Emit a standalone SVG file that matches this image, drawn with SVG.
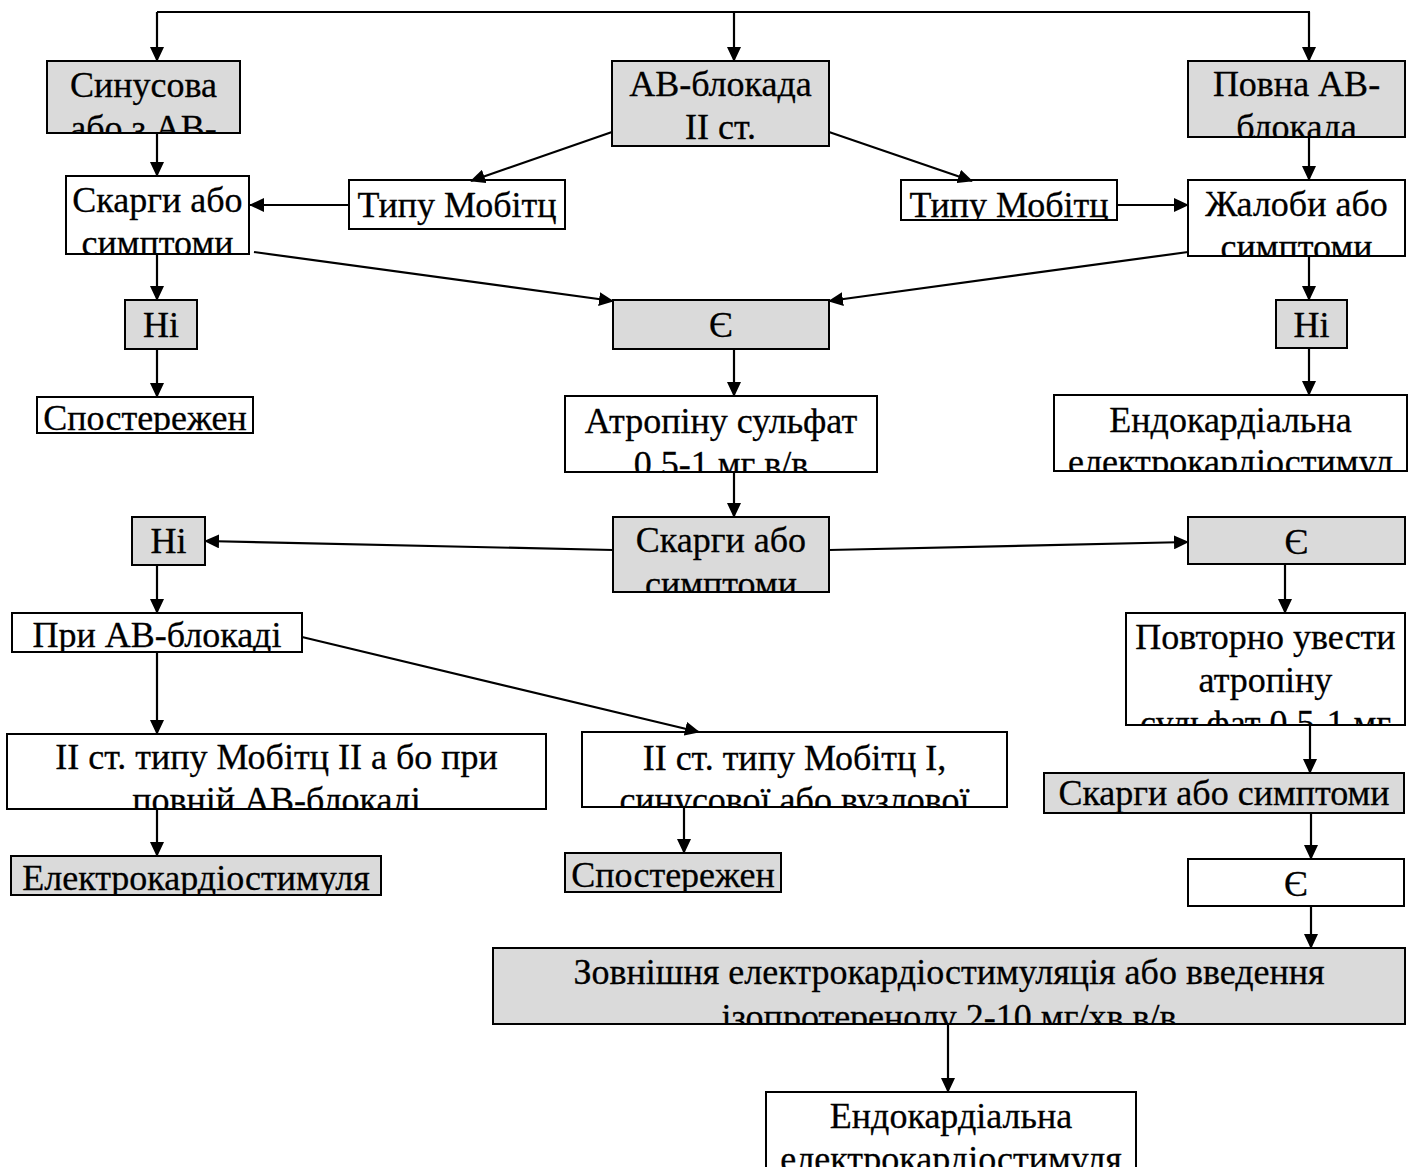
<svg xmlns="http://www.w3.org/2000/svg" width="1408" height="1167" viewBox="0 0 1408 1167">
<style>
.box{stroke:#000;stroke-width:2}
.g{fill:#dadada}
.w{fill:#fff}
text{font-family:"Liberation Serif","Times New Roman","DejaVu Serif",serif;font-size:36px;text-anchor:middle;fill:#000;stroke:#000;stroke-width:0.3}
.c{fill:none;stroke:#000;stroke-width:2.2;marker-end:url(#arr)}
.p{fill:none;stroke:#000;stroke-width:2.2}
</style>
<defs>
<marker id="arr" viewBox="0 0 15 14" refX="14" refY="7" markerWidth="15" markerHeight="14" markerUnits="userSpaceOnUse" orient="auto"><path d="M0,0 L15,7 L0,14 z" fill="#000"/></marker>
<clipPath id="k1"><rect x="47" y="61" width="193" height="72"/></clipPath>
<clipPath id="k2"><rect x="612" y="61" width="217" height="85"/></clipPath>
<clipPath id="k3"><rect x="1188" y="61" width="217" height="76"/></clipPath>
<clipPath id="k4"><rect x="66" y="176" width="183" height="78"/></clipPath>
<clipPath id="k5"><rect x="349" y="180" width="216" height="49"/></clipPath>
<clipPath id="k6"><rect x="901" y="180" width="216" height="40"/></clipPath>
<clipPath id="k7"><rect x="1188" y="180" width="217" height="76"/></clipPath>
<clipPath id="k8"><rect x="125" y="300" width="72" height="49"/></clipPath>
<clipPath id="k9"><rect x="613" y="300" width="216" height="49"/></clipPath>
<clipPath id="k10"><rect x="1276" y="300" width="71" height="48"/></clipPath>
<clipPath id="k11"><rect x="37" y="397" width="216" height="36"/></clipPath>
<clipPath id="k12"><rect x="565" y="396" width="312" height="76"/></clipPath>
<clipPath id="k13"><rect x="1054" y="395" width="353" height="76"/></clipPath>
<clipPath id="k14"><rect x="132" y="517" width="73" height="48"/></clipPath>
<clipPath id="k15"><rect x="613" y="517" width="216" height="75"/></clipPath>
<clipPath id="k16"><rect x="1188" y="517" width="217" height="47"/></clipPath>
<clipPath id="k17"><rect x="12" y="613" width="290" height="39"/></clipPath>
<clipPath id="k18"><rect x="1126" y="613" width="279" height="112"/></clipPath>
<clipPath id="k19"><rect x="7" y="734" width="539" height="75"/></clipPath>
<clipPath id="k20"><rect x="582" y="732" width="425" height="75"/></clipPath>
<clipPath id="k21"><rect x="1044" y="773" width="360" height="40"/></clipPath>
<clipPath id="k22"><rect x="11" y="856" width="370" height="39"/></clipPath>
<clipPath id="k23"><rect x="565" y="853" width="216" height="39"/></clipPath>
<clipPath id="k24"><rect x="1188" y="859" width="216" height="47"/></clipPath>
<clipPath id="k25"><rect x="493" y="948" width="912" height="76"/></clipPath>
<clipPath id="k26"><rect x="766" y="1092" width="370" height="80"/></clipPath>
</defs>
<rect width="1408" height="1167" fill="#fff"/>

<g id="n1"><rect class="box g" x="47" y="61" width="193" height="72"/><g clip-path="url(#k1)"><text x="143.5" y="97">Синусова</text><text x="143.5" y="140">або з АВ-</text></g></g>
<g id="n2"><rect class="box g" x="612" y="61" width="217" height="85"/><g clip-path="url(#k2)"><text x="720.5" y="96">АВ-блокада</text><text x="720.5" y="139">II ст.</text></g></g>
<g id="n3"><rect class="box g" x="1188" y="61" width="217" height="76"/><g clip-path="url(#k3)"><text x="1296.5" y="96">Повна АВ-</text><text x="1296.5" y="139">блокада</text></g></g>
<g id="n4"><rect class="box w" x="66" y="176" width="183" height="78"/><g clip-path="url(#k4)"><text x="157.5" y="212">Скарги або</text><text x="157.5" y="255">симптоми</text></g></g>
<g id="n5"><rect class="box w" x="349" y="180" width="216" height="49"/><g clip-path="url(#k5)"><text x="457" y="217">Типу Мобітц</text></g></g>
<g id="n6"><rect class="box w" x="901" y="180" width="216" height="40"/><g clip-path="url(#k6)"><text x="1009" y="217">Типу Мобітц</text></g></g>
<g id="n7"><rect class="box w" x="1188" y="180" width="217" height="76"/><g clip-path="url(#k7)"><text x="1296.5" y="216">Жалоби або</text><text x="1296.5" y="259">симптоми</text></g></g>
<g id="n8"><rect class="box g" x="125" y="300" width="72" height="49"/><g clip-path="url(#k8)"><text x="161" y="337">Ні</text></g></g>
<g id="n9"><rect class="box g" x="613" y="300" width="216" height="49"/><g clip-path="url(#k9)"><text x="721" y="337">Є</text></g></g>
<g id="n10"><rect class="box g" x="1276" y="300" width="71" height="48"/><g clip-path="url(#k10)"><text x="1311.5" y="337">Ні</text></g></g>
<g id="n11"><rect class="box w" x="37" y="397" width="216" height="36"/><g clip-path="url(#k11)"><text x="145" y="430">Спостережен</text></g></g>
<g id="n12"><rect class="box w" x="565" y="396" width="312" height="76"/><g clip-path="url(#k12)"><text x="721" y="433">Атропіну сульфат</text><text x="721" y="476">0,5-1 мг в/в</text></g></g>
<g id="n13"><rect class="box w" x="1054" y="395" width="353" height="76"/><g clip-path="url(#k13)"><text x="1230.5" y="432">Ендокардіальна</text><text x="1230.5" y="474">електрокардіостимул</text></g></g>
<g id="n14"><rect class="box g" x="132" y="517" width="73" height="48"/><g clip-path="url(#k14)"><text x="168.5" y="553">Ні</text></g></g>
<g id="n15"><rect class="box g" x="613" y="517" width="216" height="75"/><g clip-path="url(#k15)"><text x="721" y="552">Скарги або</text><text x="721" y="596">симптоми</text></g></g>
<g id="n16"><rect class="box g" x="1188" y="517" width="217" height="47"/><g clip-path="url(#k16)"><text x="1296.5" y="554">Є</text></g></g>
<g id="n17"><rect class="box w" x="12" y="613" width="290" height="39"/><g clip-path="url(#k17)"><text x="157" y="647">При АВ-блокаді</text></g></g>
<g id="n18"><rect class="box w" x="1126" y="613" width="279" height="112"/><g clip-path="url(#k18)"><text x="1265.5" y="649">Повторно увести</text><text x="1265.5" y="692">атропіну</text><text x="1265.5" y="735">сульфат 0,5-1 мг</text></g></g>
<g id="n19"><rect class="box w" x="7" y="734" width="539" height="75"/><g clip-path="url(#k19)"><text x="276.5" y="769">II ст. типу Мобітц II а бо при</text><text x="276.5" y="812">повній АВ-блокаді</text></g></g>
<g id="n20"><rect class="box w" x="582" y="732" width="425" height="75"/><g clip-path="url(#k20)"><text x="794.5" y="770">II ст. типу Мобітц I,</text><text x="794.5" y="812">синусової або вузлової</text></g></g>
<g id="n21"><rect class="box g" x="1044" y="773" width="360" height="40"/><g clip-path="url(#k21)"><text x="1224" y="805">Скарги або симптоми</text></g></g>
<g id="n22"><rect class="box g" x="11" y="856" width="370" height="39"/><g clip-path="url(#k22)"><text x="196" y="890">Електрокардіостимуля</text></g></g>
<g id="n23"><rect class="box g" x="565" y="853" width="216" height="39"/><g clip-path="url(#k23)"><text x="673" y="887">Спостережен</text></g></g>
<g id="n24"><rect class="box w" x="1188" y="859" width="216" height="47"/><g clip-path="url(#k24)"><text x="1296" y="896">Є</text></g></g>
<g id="n25"><rect class="box g" x="493" y="948" width="912" height="76"/><g clip-path="url(#k25)"><text x="949" y="984">Зовнішня електрокардіостимуляція або введення</text><text x="949" y="1029">ізопротеренолу 2-10 мг/хв в/в</text></g></g>
<g id="n26"><rect class="box w" x="766" y="1092" width="370" height="80"/><g clip-path="url(#k26)"><text x="951" y="1128">Ендокардіальна</text><text x="951" y="1171">електрокардіостимуля</text></g></g>

<g id="connectors">
<path class="p" d="M157,12 H1310"/>
<path class="c" d="M157,12 V61"/>
<path class="c" d="M734,12 V61"/>
<path class="c" d="M1309,12 V61"/>
<path class="c" d="M157,133 V176"/>
<path class="c" d="M612,132 L471,181"/>
<path class="c" d="M829,132 L972,181"/>
<path class="c" d="M349,205 H250"/>
<path class="c" d="M1117,205 H1188"/>
<path class="c" d="M1309,137 V180"/>
<path class="c" d="M254,252 L613,301"/>
<path class="c" d="M1188,252 L829,301"/>
<path class="c" d="M157,254 V300"/>
<path class="c" d="M1309,256 V300"/>
<path class="c" d="M157,349 V397"/>
<path class="c" d="M734,349 V396"/>
<path class="c" d="M1309,348 V395"/>
<path class="c" d="M734,472 V517"/>
<path class="c" d="M613,550 L205,541"/>
<path class="c" d="M829,550 L1188,542"/>
<path class="c" d="M157,565 V613"/>
<path class="c" d="M1285,564 V613"/>
<path class="c" d="M302,637 L699,732"/>
<path class="c" d="M157,652 V734"/>
<path class="c" d="M1310,725 V773"/>
<path class="c" d="M157,809 V856"/>
<path class="c" d="M684,807 V853"/>
<path class="c" d="M1311,813 V859"/>
<path class="c" d="M1311,906 V948"/>
<path class="c" d="M948,1024 V1092"/>
</g>
</svg>
